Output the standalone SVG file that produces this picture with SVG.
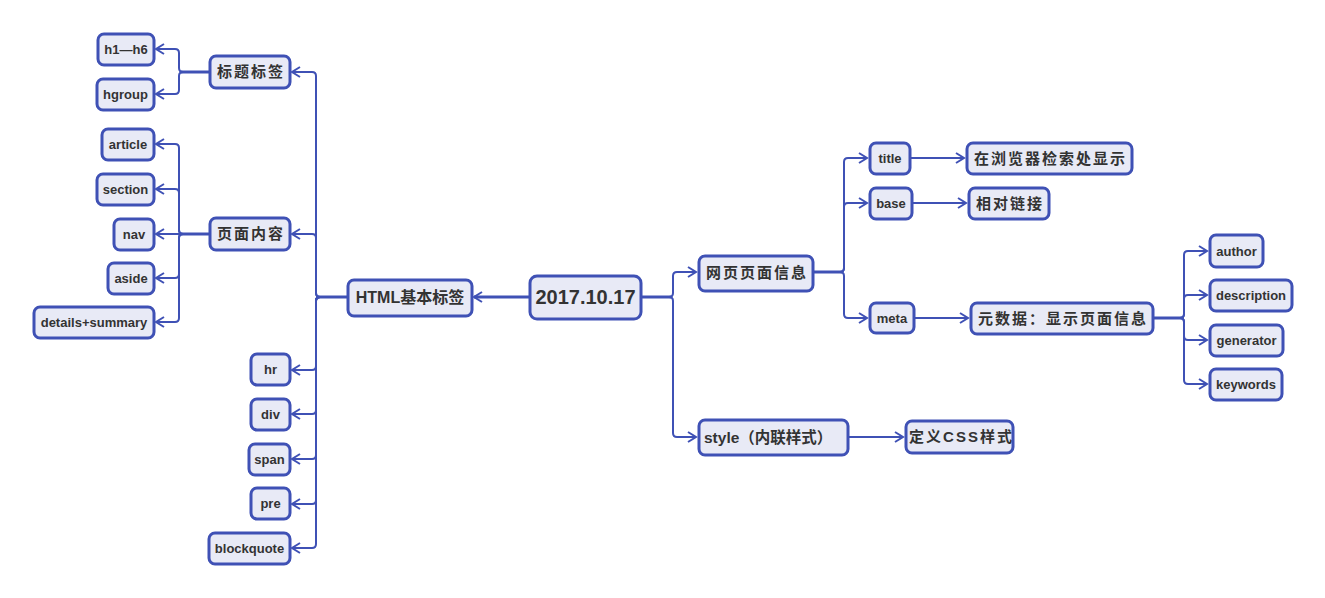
<svg xmlns="http://www.w3.org/2000/svg" width="1325" height="598" viewBox="0 0 1325 598">
<style>
.n rect{fill:#e8eaf6;stroke:#3f51b5;stroke-width:3}
.n text{font-family:"Liberation Sans","Noto Sans CJK SC",sans-serif;font-weight:bold;fill:#333;text-anchor:middle}
.s text{font-size:13px}
.m text{font-size:15px;letter-spacing:2px}
.c path{fill:none;stroke:#3f51b5;stroke-width:2}
.c path.t{stroke-width:3}
</style>
<defs>
<marker id="a" markerUnits="userSpaceOnUse" viewBox="-1 -6 11 12" markerWidth="11" markerHeight="12" refX="8" refY="0" orient="auto">
<path d="M0,-5 L8,0 L0,5" fill="none" stroke="#3f51b5" stroke-width="2"/>
</marker>
</defs>
<g class="c">
<path class="t" d="M529,297 H474" marker-end="url(#a)"/>
<path class="t" d="M347,297 H318"/>
<path d="M347,297 H320 Q316,297 316,293 V76 Q316,72 312,72 H292" marker-end="url(#a)"/>
<path d="M347,297 H320 Q316,297 316,293 V238 Q316,234 312,234 H292" marker-end="url(#a)"/>
<path d="M347,297 H320 Q316,297 316,301 V366 Q316,370 312,370 H292" marker-end="url(#a)"/>
<path d="M347,297 H320 Q316,297 316,301 V410 Q316,414 312,414 H292" marker-end="url(#a)"/>
<path d="M347,297 H320 Q316,297 316,301 V455 Q316,459 312,459 H292" marker-end="url(#a)"/>
<path d="M347,297 H320 Q316,297 316,301 V500 Q316,504 312,504 H292" marker-end="url(#a)"/>
<path d="M347,297 H320 Q316,297 316,301 V544 Q316,548 312,548 H292" marker-end="url(#a)"/>
<path class="t" d="M209,72 H181"/>
<path d="M209,72 H183 Q179,72 179,68 V53 Q179,49 175,49 H156" marker-end="url(#a)"/>
<path d="M209,72 H183 Q179,72 179,76 V90 Q179,94 175,94 H156" marker-end="url(#a)"/>
<path class="t" d="M209,234 H181"/>
<path d="M209,234 H183 Q179,234 179,230 V148 Q179,144 175,144 H156" marker-end="url(#a)"/>
<path d="M209,234 H183 Q179,234 179,230 V193 Q179,189 175,189 H156" marker-end="url(#a)"/>
<path d="M209,234 H156" marker-end="url(#a)"/>
<path d="M209,234 H183 Q179,234 179,238 V274 Q179,278 175,278 H156" marker-end="url(#a)"/>
<path d="M209,234 H183 Q179,234 179,238 V318 Q179,322 175,322 H156" marker-end="url(#a)"/>
<path class="t" d="M641,297 H671"/>
<path d="M641,297 H669 Q673,297 673,293 V276 Q673,272 677,272 H696" marker-end="url(#a)"/>
<path d="M641,297 H669 Q673,297 673,301 V433 Q673,437 677,437 H696" marker-end="url(#a)"/>
<path class="t" d="M813,272 H842"/>
<path d="M813,272 H840 Q844,272 844,268 V162 Q844,158 848,158 H867" marker-end="url(#a)"/>
<path d="M813,272 H840 Q844,272 844,268 V207 Q844,203 848,203 H867" marker-end="url(#a)"/>
<path d="M813,272 H840 Q844,272 844,276 V314 Q844,318 848,318 H867" marker-end="url(#a)"/>
<path d="M910,158 H964" marker-end="url(#a)"/>
<path d="M912,203 H966" marker-end="url(#a)"/>
<path d="M914,318 H968" marker-end="url(#a)"/>
<path d="M848,437 H903" marker-end="url(#a)"/>
<path class="t" d="M1153,318 H1182"/>
<path d="M1153,318 H1180 Q1184,318 1184,314 V255 Q1184,251 1188,251 H1207" marker-end="url(#a)"/>
<path d="M1153,318 H1180 Q1184,318 1184,314 V299 Q1184,295 1188,295 H1207" marker-end="url(#a)"/>
<path d="M1153,318 H1180 Q1184,318 1184,322 V336 Q1184,340 1188,340 H1207" marker-end="url(#a)"/>
<path d="M1153,318 H1180 Q1184,318 1184,322 V380 Q1184,384 1188,384 H1207" marker-end="url(#a)"/>
</g>
<g id="root" class="n"><rect x="530" y="276" width="111" height="43" rx="7"/><text x="585.5" y="304" font-size="20">2017.10.17</text></g>
<g id="html" class="n"><rect x="348" y="280" width="124" height="36" rx="6"/><text x="410" y="303" font-size="16">HTML基本标签</text></g>
<g id="biaoti" class="n m"><rect x="210" y="56" width="80" height="32" rx="6"/><text x="251" y="77">标题标签</text></g>
<g id="h1h6" class="n s"><rect x="98" y="34" width="56" height="31" rx="6"/><text x="126" y="54">h1—h6</text></g>
<g id="hgroup" class="n s"><rect x="97" y="79" width="57" height="31" rx="6"/><text x="125.5" y="99">hgroup</text></g>
<g id="yemian" class="n m"><rect x="210" y="218" width="80" height="32" rx="6"/><text x="251" y="239">页面内容</text></g>
<g id="article" class="n s"><rect x="102" y="129" width="52" height="31" rx="6"/><text x="128" y="149">article</text></g>
<g id="section" class="n s"><rect x="97" y="174" width="57" height="31" rx="6"/><text x="125.5" y="194">section</text></g>
<g id="nav" class="n s"><rect x="114" y="219" width="40" height="31" rx="6"/><text x="134" y="239">nav</text></g>
<g id="aside" class="n s"><rect x="108" y="263" width="46" height="31" rx="6"/><text x="131" y="283">aside</text></g>
<g id="details" class="n s"><rect x="34" y="307" width="120" height="31" rx="6"/><text x="94" y="327">details+summary</text></g>
<g id="hr" class="n s"><rect x="251" y="354" width="39" height="31" rx="6"/><text x="270.5" y="374">hr</text></g>
<g id="div" class="n s"><rect x="251" y="399" width="39" height="31" rx="6"/><text x="270.5" y="419">div</text></g>
<g id="span" class="n s"><rect x="249" y="444" width="41" height="31" rx="6"/><text x="269.5" y="464">span</text></g>
<g id="pre" class="n s"><rect x="251" y="488" width="39" height="31" rx="6"/><text x="270.5" y="508">pre</text></g>
<g id="blockquote" class="n s"><rect x="209" y="533" width="81" height="31" rx="6"/><text x="249.5" y="553">blockquote</text></g>
<g id="wangye" class="n m"><rect x="699" y="256" width="114" height="35" rx="6"/><text x="757" y="278">网页页面信息</text></g>
<g id="title" class="n s"><rect x="870" y="143" width="40" height="31" rx="6"/><text x="890" y="163">title</text></g>
<g id="base" class="n s"><rect x="870" y="188" width="42" height="31" rx="6"/><text x="891" y="208">base</text></g>
<g id="meta" class="n s"><rect x="870" y="303" width="44" height="30" rx="6"/><text x="892" y="323">meta</text></g>
<g id="xianshi" class="n m"><rect x="967" y="143" width="165" height="31" rx="6"/><text x="1050.5" y="164">在浏览器检索处显示</text></g>
<g id="lianjie" class="n m"><rect x="969" y="188" width="80" height="31" rx="6"/><text x="1010" y="209">相对链接</text></g>
<g id="yuanshuju" class="n m"><rect x="971" y="303" width="182" height="31" rx="6"/><text x="1063" y="324">元数据：显示页面信息</text></g>
<g id="author" class="n s"><rect x="1210" y="235" width="53" height="32" rx="6"/><text x="1236.5" y="256">author</text></g>
<g id="description" class="n s"><rect x="1210" y="280" width="82" height="31" rx="6"/><text x="1251" y="300">description</text></g>
<g id="generator" class="n s"><rect x="1210" y="325" width="73" height="31" rx="6"/><text x="1246.5" y="345">generator</text></g>
<g id="keywords" class="n s"><rect x="1210" y="369" width="72" height="31" rx="6"/><text x="1246" y="389">keywords</text></g>
<g id="style" class="n"><rect x="699" y="420" width="149" height="35" rx="6"/><text x="704" y="443" font-size="15.5" style="text-anchor:start">style（内联样式）</text></g>
<g id="css" class="n m"><rect x="906" y="421" width="107" height="32" rx="6"/><text x="961.5" y="442">定义CSS样式</text></g>
</svg>
